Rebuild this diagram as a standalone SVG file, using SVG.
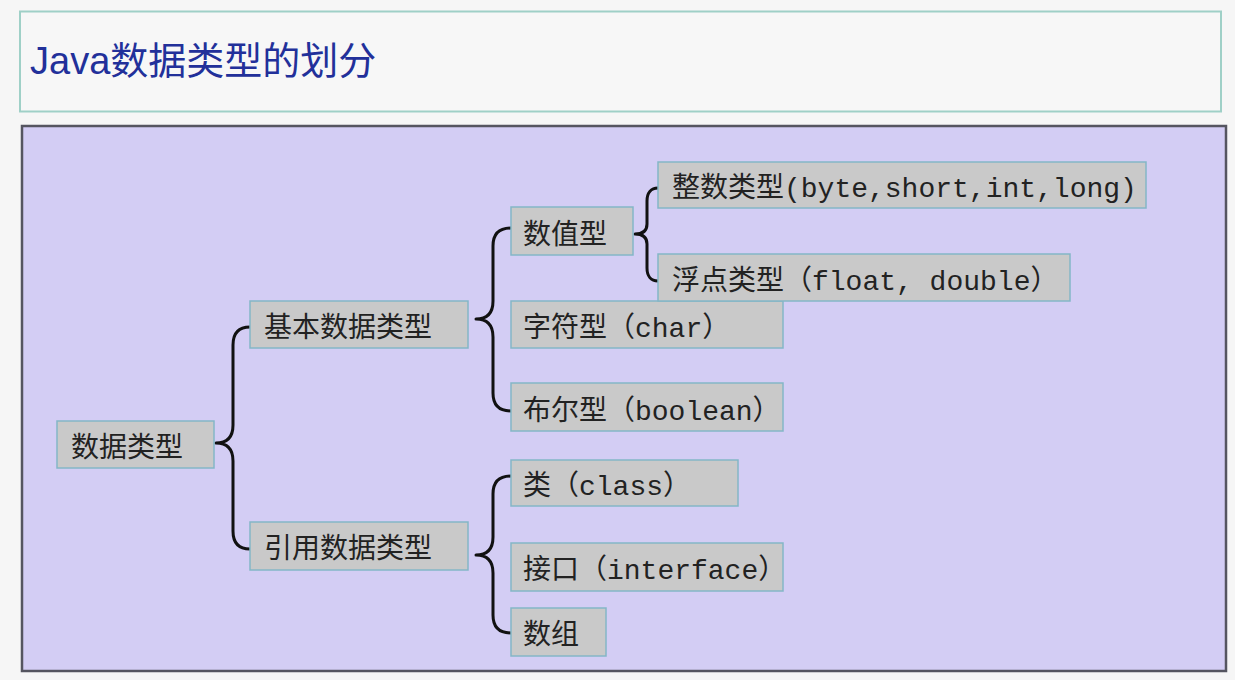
<svg xmlns="http://www.w3.org/2000/svg" width="1235" height="680" viewBox="0 0 1235 680">
  <style>
    .box { fill: #c9c9c9; stroke: #84b6c6; stroke-width: 1.5; }
    .lbl { font-family: "Liberation Mono", "Noto Sans CJK SC", monospace; font-size: 28px; fill: #222222; }
    .brace { fill: none; stroke: #111111; stroke-width: 3; stroke-linecap: round; stroke-linejoin: round; }
    .title { font-family: "Liberation Sans", "Noto Sans CJK SC", sans-serif; font-size: 38px; fill: #22309a; }
  </style>
  <rect x="0" y="0" width="1235" height="680" fill="#f6f6f6"/>
  <g id="title">
    <rect x="20" y="11.5" width="1201" height="100" fill="#f7f7f7" stroke="#9fd0c7" stroke-width="2"/>
    <text class="title" x="30" y="74">Java数据类型的划分</text>
  </g>
  <g id="panel">
    <rect x="22" y="126" width="1204" height="545" fill="#d3cdf4" stroke="#555560" stroke-width="2.5"/>
  </g>
  <g id="connectors">
    <path class="brace" d="M250,327 C239,327 233,333 233,345 L233,425 C233,437 227,443 216,443 C227,443 233,449 233,461 L233,531 C233,543 239,549 250,549"/>
    <path class="brace" d="M511,228 C499,228 493,234 493,246 L493,301 C493,313 487,319 476,319 C487,319 493,325 493,337 L493,393 C493,405 499,411 511,411"/>
    <path class="brace" d="M511,476 C499,476 493,482 493,494 L493,537 C493,549 487,555 476,555 C487,555 493,561 493,573 L493,615 C493,627 499,633 511,633"/>
    <path class="brace" d="M658,188 C651,188 647,193 647,201 L647,224 C647,231 643,234 635,234 C643,234 647,237 647,244 L647,268 C647,276 651,281 658,281"/>
  </g>
  <g id="n0">
    <rect class="box" x="57" y="421" width="157" height="47"/>
    <text class="lbl" x="71" y="457">数据类型</text>
  </g>
  <g id="n1">
    <rect class="box" x="250" y="301" width="218" height="47"/>
    <text class="lbl" x="264" y="337">基本数据类型</text>
  </g>
  <g id="n2">
    <rect class="box" x="250" y="522" width="218" height="48"/>
    <text class="lbl" x="264" y="558">引用数据类型</text>
  </g>
  <g id="n3">
    <rect class="box" x="511" y="207" width="122" height="48"/>
    <text class="lbl" x="523" y="244">数值型</text>
  </g>
  <g id="n6">
    <rect class="box" x="511" y="301" width="272" height="47"/>
    <text class="lbl" x="523" y="337">字符型（char）</text>
  </g>
  <g id="n4">
    <rect class="box" x="658" y="162" width="488" height="46"/>
    <text class="lbl" x="672" y="197">整数类型(byte,short,int,long)</text>
  </g>
  <g id="n5">
    <rect class="box" x="658" y="254" width="412" height="47"/>
    <text class="lbl" x="672" y="290">浮点类型（float, double）</text>
  </g>
  <g id="n7">
    <rect class="box" x="511" y="383" width="272" height="48"/>
    <text class="lbl" x="523" y="420">布尔型（boolean）</text>
  </g>
  <g id="n8">
    <rect class="box" x="511" y="460" width="227" height="46"/>
    <text class="lbl" x="523" y="495">类（class）</text>
  </g>
  <g id="n9">
    <rect class="box" x="511" y="543" width="272" height="48"/>
    <text class="lbl" x="523" y="579">接口（interface）</text>
  </g>
  <g id="n10">
    <rect class="box" x="511" y="608" width="95" height="48"/>
    <text class="lbl" x="523" y="644">数组</text>
  </g>
</svg>
